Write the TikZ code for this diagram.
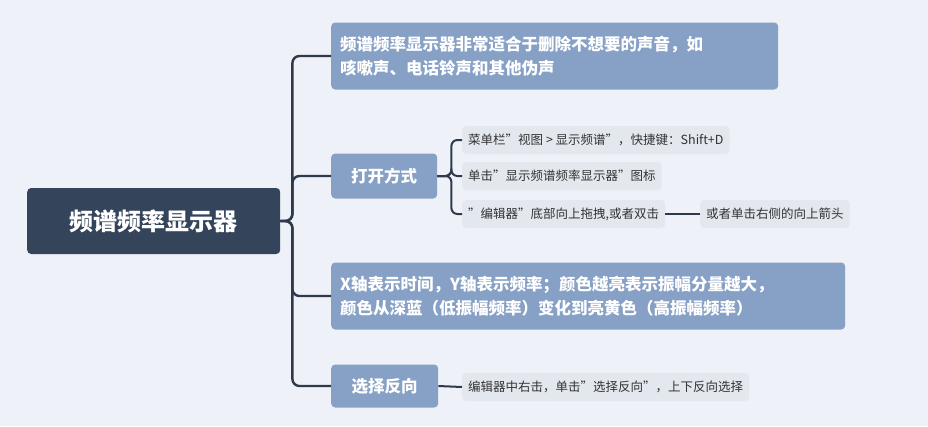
\documentclass[tikz,border=0pt]{standalone}
\usepackage{fontspec}
\setmainfont{Noto Sans CJK SC}
\usepackage{tikz}
\usetikzlibrary{positioning}
\definecolor{bgcol}{HTML}{EEF2F8}
\definecolor{rootcol}{HTML}{34445A}
\definecolor{topiccol}{HTML}{86A0C6}
\definecolor{leafcol}{HTML}{E3E8EF}
\definecolor{linecol}{HTML}{2E3A4B}
\tikzset{
  rootnode/.style={fill=rootcol, rounded corners=4pt, text=white, font=\bfseries\fontsize{24}{28}\selectfont, minimum width=253pt, minimum height=66pt, anchor=west},
  topic/.style={fill=topiccol, rounded corners=4pt, text=white, font=\bfseries\fontsize{16.5}{24}\selectfont, anchor=west, align=left, inner xsep=9pt},
  leaf/.style={fill=leafcol, rounded corners=4pt, text=black!80, font=\fontsize{12.5}{15}\selectfont, anchor=west, minimum height=28pt, inner xsep=6pt},
  link/.style={draw=linecol, line width=2.4pt, rounded corners=7pt}
}
\begin{document}
\begin{tikzpicture}[x=1pt,y=-1pt]
  \fill[bgcol] (0,0) rectangle (928,426);
  \useasboundingbox (0,0) rectangle (928,426);

  % root
  \node[rootnode] (root) at (27,221) {频谱频率显示器};

  % topics
  \node[topic, minimum width=447pt, minimum height=67pt, text width=429pt] (desc) at (331,56) {频谱频率显示器非常适合于删除不想要的声音，如\\咳嗽声、电话铃声和其他伪声};
  \node[topic, minimum width=106pt, minimum height=45pt] (open) at (331,176) {打开方式};
  \node[topic, minimum width=514pt, minimum height=67pt, text width=496pt] (axis) at (331,296) {X轴表示时间，Y轴表示频率；颜色越亮表示振幅分量越大，\\颜色从深蓝（低振幅频率）变化到亮黄色（高振幅频率）};
  \node[topic, minimum width=107pt, minimum height=43pt] (invert) at (331,386) {选择反向};

  % leaves
  \node[leaf] (menu) at (462,140) {菜单栏"视图 > 显示频谱"，快捷键：Shift+D};
  \node[leaf] (icon) at (462,176) {单击"显示频谱频率显示器"图标};
  \node[leaf] (drag) at (462,214) {"编辑器"底部向上拖拽,或者双击};
  \node[leaf] (arrow) at (700,214) {或者单击右侧的向上箭头};
  \node[leaf] (click) at (462,387) {编辑器中右击，单击"选择反向"，上下反向选择};

  % connectors
  \foreach \t in {desc,open,axis,invert}
    \draw[link] (root.east) -- ++(12,0) |- (\t.west);
  \foreach \t in {menu,icon,drag}
    \draw[link, line width=2pt, rounded corners=6pt] (open.east) -- ++(14,0) |- (\t.west);
  \draw[link, line width=2pt] (drag.east) -- (arrow.west);
  \draw[link, line width=2pt] (invert.east) -- (click.west);
\end{tikzpicture}
\end{document}
